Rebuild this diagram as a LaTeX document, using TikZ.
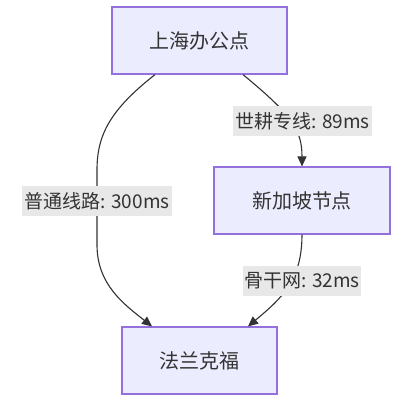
\documentclass[tikz,border=0pt]{standalone}
\usepackage{fontspec}
\setmainfont{Noto Sans CJK SC}
\usetikzlibrary{arrows.meta}
\definecolor{nodefill}{HTML}{ECECFF}
\definecolor{nodestroke}{HTML}{9370DB}
\definecolor{txt}{HTML}{333333}
\definecolor{lblbg}{HTML}{E8E8E8}
\tikzset{
  box/.style={draw=nodestroke, fill=nodefill, line width=1.2pt, minimum height=67pt, inner sep=0pt, text=txt, font=\fontsize{20}{24}\selectfont},
  lbl/.style={fill=lblbg, text=txt, inner sep=0pt, minimum height=30pt, font=\fontsize{19}{22}\selectfont},
  edge/.style={draw=txt, line width=1.1pt, -{Triangle[length=10pt,width=9pt]}}
}
\begin{document}
\begin{tikzpicture}[x=1pt,y=-1pt]
\useasboundingbox[fill=white] (0,0) rectangle (400,400);
\node[box, minimum width=175pt] (sh) at (199.5,40.5) {上海办公点};
\node[box, minimum width=176pt] (sg) at (302,200.5) {新加坡节点};
\node[box, minimum width=155pt] (fr) at (199.5,360.5) {法兰克福};
\coordinate (s1) at ([xshift=-44.5pt]sh.south);
\coordinate (s2) at ([xshift=43.5pt]sh.south);
\coordinate (e1) at ([xshift=-47.5pt]fr.north);
\coordinate (e3) at ([xshift=48.5pt]fr.north);
\draw[edge] (s1) .. controls (110,110) and (97,135) .. (97,170) -- (97,245) .. controls (97,285) and (125,305) .. (e1);
\draw[edge] (s2) .. controls (292,115) and (302,130) .. (sg.north);
\draw[edge] (sg.south) .. controls (302,280) and (282,298) .. (e3);
\node[lbl, minimum width=150pt] (l1) at (97,201) {普通线路: 300ms};
\node[lbl, minimum width=139pt] (l2) at (302.5,121) {世耕专线: 89ms};
\node[lbl, minimum width=118pt] (l3) at (302,281) {骨干网: 32ms};
\end{tikzpicture}
\end{document}
